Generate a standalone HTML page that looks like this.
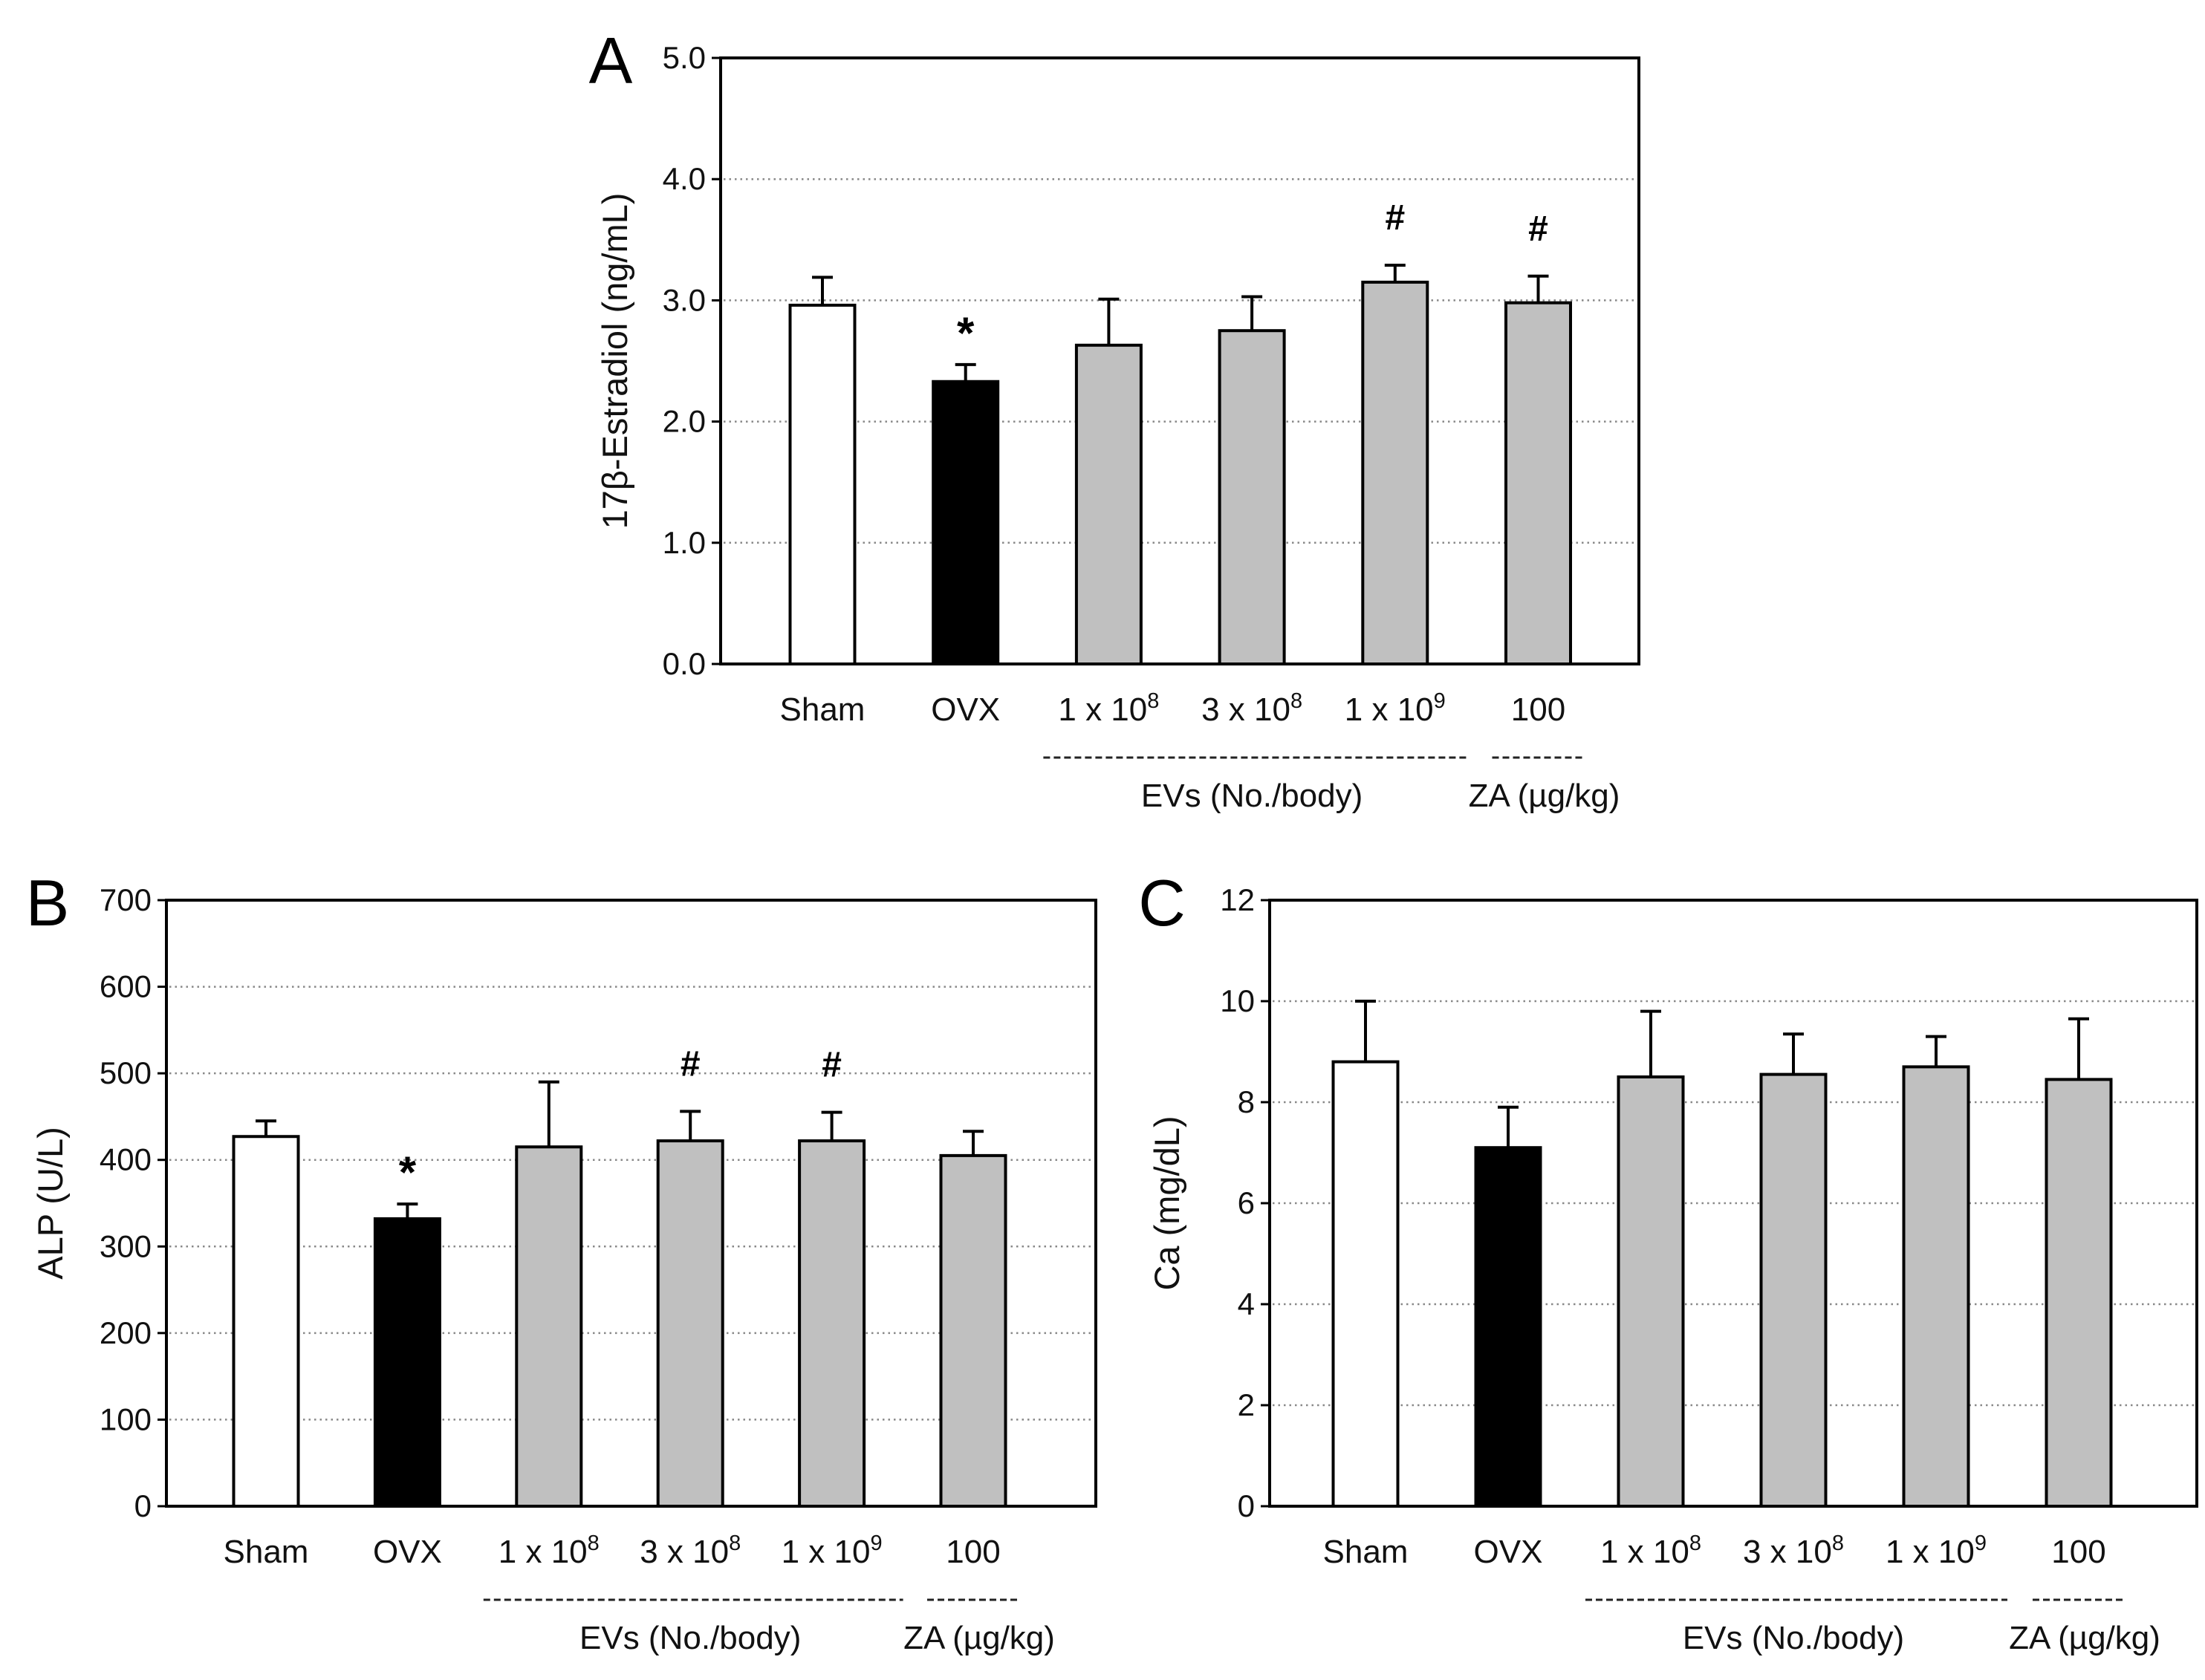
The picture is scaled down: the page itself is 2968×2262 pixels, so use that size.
<!DOCTYPE html>
<html><head><meta charset="utf-8"><style>
html,body{margin:0;padding:0;background:#fff;}
svg{display:block;font-family:"Liberation Sans",Arial,sans-serif;}
</style></head><body>
<svg id="fig" width="2968" height="2262" viewBox="0 0 2968 2262" xmlns="http://www.w3.org/2000/svg"></svg>
<script>
const categories = ["Sham","OVX","1 x 10|8","3 x 10|8","1 x 10|9","100"];
const fills = ["#ffffff","#000000","#c0c0c0","#c0c0c0","#c0c0c0","#c0c0c0"];
const valuesA = [2.96,2.33,2.63,2.75,3.15,2.98];
const errorsA = [0.23,0.14,0.38,0.28,0.14,0.22];
const marksA = ["","*","","","#","#"];
const ticksA = ["0.0","1.0","2.0","3.0","4.0","5.0"];
const valuesB = [427,332,415,422,422,405];
const errorsB = [18,17,75,34,33,28];
const marksB = ["","*","","#","#",""];
const ticksB = ["0","100","200","300","400","500","600","700"];
const valuesC = [8.8,7.1,8.5,8.55,8.7,8.45];
const errorsC = [1.2,0.8,1.3,0.8,0.6,1.2];
const marksC = ["","","","","",""];
const ticksC = ["0","2","4","6","8","10","12"];

const NS="http://www.w3.org/2000/svg";
const svg=document.getElementById('fig');
function mk(tag,attrs,parent,text){const e=document.createElementNS(NS,tag);for(const k in attrs)e.setAttribute(k,attrs[k]);if(text!==undefined)e.textContent=text;(parent||svg).appendChild(e);return e;}

function panel(p){
  const g=mk('g',{});
  
  
  const ymax=parseFloat(p.ticks[p.ticks.length-1]);
  const ys=v=>p.y1-(v/ymax)*(p.y1-p.y0);
  const xs=i=>p.first+p.step*i;
  const bw=87;
  p.ticks.forEach(t=>{
    const v=parseFloat(t), y=ys(v);
    if(v>0&&v<ymax){const gl=mk('line',{x1:p.x0+4,x2:p.x1-4,y1:y,y2:y,stroke:'#888','stroke-width':2.5,'stroke-dasharray':'2.5 5'},g);
      }
    mk('line',{x1:p.x0-12,x2:p.x0,y1:y,y2:y,stroke:'#000','stroke-width':3},g);
    const tl=mk('text',{x:p.x0-20,y:y+14,'text-anchor':'end','font-size':42,fill:'#111'},g,t);
    
  });
  categories.forEach((c,i)=>{
    const v=p.values[i], e=p.errors[i], cx=xs(i), y=ys(v), ye=ys(v+e);
    const eb=mk('line',{x1:cx,x2:cx,y1:y,y2:ye,stroke:'#000','stroke-width':4},g);
    
    mk('line',{x1:cx-14,x2:cx+14,y1:ye,y2:ye,stroke:'#000','stroke-width':4},g);
    const b=mk('rect',{x:cx-bw/2,y:y,width:bw,height:p.y1-y,fill:fills[i],stroke:'#000','stroke-width':4},g);
    
    if(p.marks[i]){const m=mk('text',{x:cx,y:ye-(p.marks[i]=='*'?22:48),'text-anchor':'middle','font-size':p.marks[i]=='*'?60:48,'font-weight':'bold'},g,p.marks[i]);
      }
    const parts=c.split('|');
    const lab=mk('text',{x:cx,y:p.y1+76,'text-anchor':'middle','font-size':44,fill:'#111'},g);
    
    mk('tspan',{},lab,parts[0]);
    if(parts[1]){mk('tspan',{dy:-17,'font-size':29},lab,parts[1]);}
  });
  const fr=mk('rect',{x:p.x0,y:p.y0,width:p.x1-p.x0,height:p.y1-p.y0,fill:'none',stroke:'#000','stroke-width':4},g);
  
  const dy=p.y1+126;
  const d1=mk('line',{x1:xs(2)-88,x2:xs(4)+96,y1:dy,y2:dy,stroke:'#222','stroke-width':3,'stroke-dasharray':'9 5'},g);
  
  const d2=mk('line',{x1:xs(5)-62,x2:xs(5)+62,y1:dy,y2:dy,stroke:'#222','stroke-width':3,'stroke-dasharray':'9 5'},g);
  
  const gl1=mk('text',{x:xs(3),y:p.y1+192,'text-anchor':'middle','font-size':44,fill:'#111'},g,'EVs (No./body)');
  
  const gl2=mk('text',{x:xs(5)+8,y:p.y1+192,'text-anchor':'middle','font-size':44,fill:'#111'},g,'ZA (µg/kg)');
  
  const yt=mk('text',{x:0,y:0,'text-anchor':'middle','font-size':47,fill:'#111',transform:`translate(${p.tx},${(p.y0+p.y1)/2}) rotate(-90)`},g,p.title);
  
  const L=mk('text',{x:p.lx,y:p.y0+34,'text-anchor':'middle','font-size':88,fill:'#000'},g,p.id);
  
}
panel({id:'A',x0:970,x1:2206,y0:78,y1:894,first:1107,step:192.7,values:valuesA,errors:errorsA,marks:marksA,ticks:ticksA,title:'17β-Estradiol (ng/mL)',tx:844,lx:822});
panel({id:'B',x0:224,x1:1475,y0:1212,y1:2028,first:358,step:190.4,values:valuesB,errors:errorsB,marks:marksB,ticks:ticksB,title:'ALP (U/L)',tx:84,lx:64});
panel({id:'C',x0:1709,x1:2957,y0:1212,y1:2028,first:1838,step:192,values:valuesC,errors:errorsC,marks:marksC,ticks:ticksC,title:'Ca (mg/dL)',tx:1587,lx:1564});
</script>
</body></html>
